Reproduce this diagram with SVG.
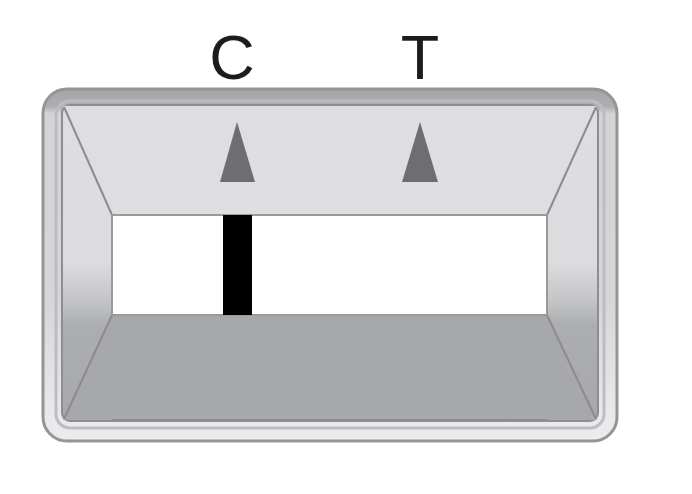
<svg xmlns="http://www.w3.org/2000/svg" width="692" height="494" viewBox="0 0 692 494">
<defs>
<style>
.lbl{font-family:"Liberation Sans",Arial,sans-serif;font-size:63px;fill:#1c1c1c;text-anchor:middle}
.edge{stroke:#8c8c8e;stroke-width:2;fill:none}
.tri{fill:#6e6e70}
</style>
<linearGradient id="frame" x1="0" y1="0" x2="0" y2="1">
<stop offset="0" stop-color="#a3a4a6"/>
<stop offset="0.05" stop-color="#aeafb1"/>
<stop offset="0.07" stop-color="#d4d4d6"/>
<stop offset="0.6" stop-color="#d6d6d8"/>
<stop offset="0.9" stop-color="#e8e8ea"/>
<stop offset="1" stop-color="#ececee"/>
</linearGradient>
<linearGradient id="side" x1="0" y1="105" x2="0" y2="420" gradientUnits="userSpaceOnUse">
<stop offset="0" stop-color="#dedee0"/>
<stop offset="0.5" stop-color="#dcdcde"/>
<stop offset="0.62" stop-color="#c4c5c7"/>
<stop offset="0.7" stop-color="#acadaf"/>
<stop offset="1" stop-color="#a8a9ab"/>
</linearGradient>
</defs>
<rect width="692" height="494" fill="#ffffff"/>
<g id="labels">
<text class="lbl" x="232" y="79">C</text>
<text class="lbl" x="420" y="79">T</text>
</g>
<g id="cassette">
<rect x="43" y="89" width="574" height="352" rx="24" fill="url(#frame)" stroke="#959597" stroke-width="3"/>
<rect x="56" y="101" width="548" height="327" rx="14" fill="none" stroke="#bdbdbf" stroke-width="3"/>
<rect x="62" y="105" width="536" height="316" rx="8" fill="url(#side)" stroke="#8e8e90" stroke-width="2"/>
<polygon points="63,106 597,106 547,215 112,215" fill="#dedee0"/>
<polygon points="112,315 547,315 597,420 63,420" fill="#a7a8aa"/>
<line class="edge" x1="64" y1="107" x2="112" y2="215"/>
<line class="edge" x1="596" y1="107" x2="547" y2="215"/>
<line class="edge" x1="112" y1="315" x2="64" y2="419"/>
<line class="edge" x1="547" y1="315" x2="596" y2="419"/>
<line x1="112" y1="420" x2="547" y2="420" stroke="#8e8e90" stroke-width="2"/>
</g>
<g id="window">
<rect x="112" y="215" width="435" height="100" fill="#ffffff" stroke="#9a9a9c" stroke-width="2"/>
<rect x="223" y="215" width="29" height="100" fill="#000000"/>
</g>
<g id="markers">
<polygon class="tri" points="237,122 255,182 220,182"/>
<polygon class="tri" points="420,122 438,182 402,182"/>
</g>
</svg>
